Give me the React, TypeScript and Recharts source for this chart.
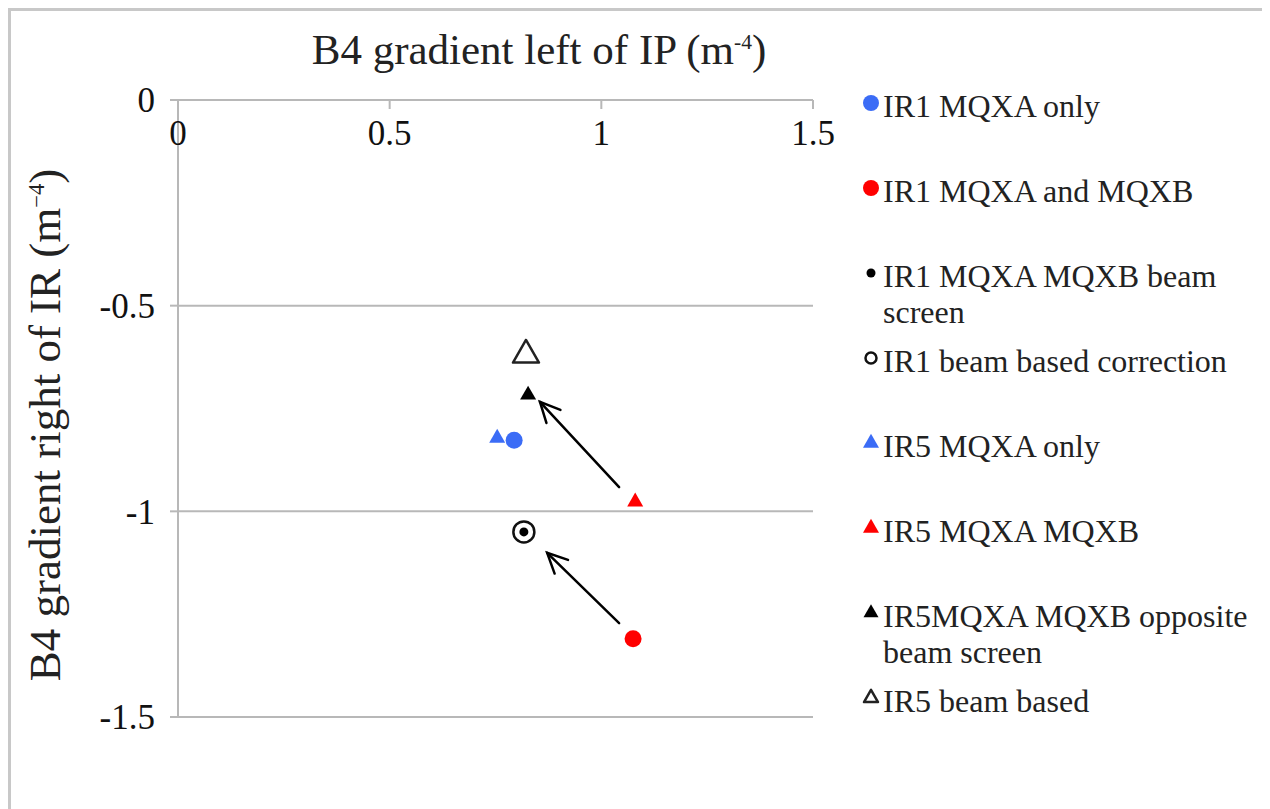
import React from 'react';
import { ScatterChart, Scatter, XAxis, YAxis, CartesianGrid, ReferenceLine } from 'recharts';

// axis ticks
const xTicks = [0, 0.5, 1, 1.5];
const yTicks = [0, -0.5, -1, -1.5];

// series values
const ir1MqxaOnly = [{ x: 0.794, y: -0.827 }];
const ir1MqxaMqxb = [{ x: 1.075, y: -1.31 }];
const ir1BeamScreen = [{ x: 0.817, y: -1.05 }];
const ir1BeamBased = [{ x: 0.817, y: -1.05 }];
const ir5MqxaOnly = [{ x: 0.754, y: -0.822 }];
const ir5MqxaMqxb = [{ x: 1.08, y: -0.977 }];
const ir5OppositeScreen = [{ x: 0.827, y: -0.717 }];
const ir5BeamBased = [{ x: 0.822, y: -0.62 }];

// arrows: from -> to
const arrowFromTo = [
  [{ x: 1.042, y: -0.941 }, { x: 0.855, y: -0.734 }],
  [{ x: 1.042, y: -1.272 }, { x: 0.872, y: -1.101 }],
];

const GRID = '#b8b8b8';
const FONT = '"Liberation Serif", "Times New Roman", serif';

type Kind = 'circle' | 'ring' | 'triangle' | 'openTriangle';

const series: { name: string; data: { x: number; y: number }[]; kind: Kind; color: string; size: number; legendSize: number }[] = [
  { name: 'IR1 MQXA only', data: ir1MqxaOnly, kind: 'circle', color: '#3b6cf6', size: 17, legendSize: 16 },
  { name: 'IR1 MQXA and MQXB', data: ir1MqxaMqxb, kind: 'circle', color: '#ff0000', size: 17, legendSize: 16 },
  { name: 'IR1 MQXA MQXB beam screen', data: ir1BeamScreen, kind: 'circle', color: '#000000', size: 9, legendSize: 9 },
  { name: 'IR1 beam based correction', data: ir1BeamBased, kind: 'ring', color: '#111111', size: 24, legendSize: 14 },
  { name: 'IR5 MQXA only', data: ir5MqxaOnly, kind: 'triangle', color: '#3b6cf6', size: 16, legendSize: 16 },
  { name: 'IR5 MQXA MQXB', data: ir5MqxaMqxb, kind: 'triangle', color: '#ff0000', size: 16, legendSize: 16 },
  { name: 'IR5MQXA MQXB opposite beam screen', data: ir5OppositeScreen, kind: 'triangle', color: '#000000', size: 16, legendSize: 15 },
  { name: 'IR5 beam based', data: ir5BeamBased, kind: 'openTriangle', color: '#222222', size: 26, legendSize: 14 },
];

function Marker({ kind, color, size, cx, cy }: { kind: Kind; color: string; size: number; cx: number; cy: number }) {
  const r = size / 2;
  if (kind === 'circle') return <circle cx={cx} cy={cy} r={r} fill={color} />;
  if (kind === 'ring') return <circle cx={cx} cy={cy} r={r - 1.5} fill="none" stroke={color} strokeWidth={2.5} />;
  const h = size * 0.87;
  const pts = `${cx},${cy - (h * 2) / 3} ${cx - r},${cy + h / 3} ${cx + r},${cy + h / 3}`;
  if (kind === 'triangle') return <polygon points={pts} fill={color} />;
  return <polygon points={pts} fill="#fff" stroke={color} strokeWidth={2.5} strokeLinejoin="round" />;
}

function Arrow(props: any) {
  const { x1, y1, x2, y2 } = props;
  const ang = Math.atan2(y2 - y1, x2 - x1);
  const len = 22;
  const spread = 0.45;
  const ax = x2 - len * Math.cos(ang - spread);
  const ay = y2 - len * Math.sin(ang - spread);
  const bx = x2 - len * Math.cos(ang + spread);
  const by = y2 - len * Math.sin(ang + spread);
  return (
    <g stroke="#000" strokeWidth={2.5} fill="none" strokeLinecap="round">
      <line x1={x1} y1={y1} x2={x2} y2={y2} />
      <polyline points={`${ax},${ay} ${x2},${y2} ${bx},${by}`} />
    </g>
  );
}

// x axis sits on top but its labels hang below the line, like the original
function XTick(props: any) {
  const { x, y, payload } = props;
  return (
    <g>
      <line x1={x} y1={y} x2={x} y2={y + 9} stroke={GRID} strokeWidth={2} />
      <text x={x} y={y + 45} textAnchor="middle" fontSize={35} fontFamily={FONT} fill="#111">
        {payload.value}
      </text>
    </g>
  );
}

function LegendBox() {
  return (
    <div style={{ position: 'absolute', left: 850, top: 77, width: 405, fontFamily: FONT, fontSize: 32, color: '#222' }}>
      {series.map((s) => (
        <div key={s.name} style={{ position: 'relative', height: 85, paddingLeft: 22, lineHeight: '36px' }}>
          <svg width={20} height={20} style={{ position: 'absolute', left: 0, top: 5 }}>
            <Marker kind={s.kind} color={s.color} size={s.legendSize} cx={10} cy={10} />
          </svg>
          <span>{s.name}</span>
        </div>
      ))}
    </div>
  );
}

export default function App() {
  return (
    <div
      style={{
        position: 'relative',
        width: 1262,
        height: 801,
        borderLeft: '3px solid #c8c8c8',
        borderTop: '3px solid #c8c8c8',
        boxSizing: 'border-box',
        background: '#fff',
      }}
    >
      <div style={{ position: 'absolute', left: -3, top: -3 }}>
        <ScatterChart width={1250} height={790} margin={{ top: 62, left: 110, right: 445, bottom: 81 }}>
          <CartesianGrid horizontal vertical={false} stroke={GRID} strokeWidth={2} />
          <XAxis
            type="number"
            dataKey="x"
            orientation="top"
            domain={[0, 1.5]}
            ticks={xTicks}
            interval={0}
            height={30}
            tickSize={0}
            tickMargin={0}
            tickLine={false}
            axisLine={{ stroke: GRID, strokeWidth: 2 }}
            tick={<XTick />}
          />
          <YAxis
            type="number"
            dataKey="y"
            domain={[-1.5, 0]}
            ticks={yTicks}
            interval={0}
            width={60}
            tickSize={8}
            tickMargin={15}
            tickLine={{ stroke: GRID, strokeWidth: 2 }}
            axisLine={{ stroke: GRID, strokeWidth: 2 }}
            tick={{ fontSize: 35, fontFamily: FONT, fill: '#111' }}
          />
          {arrowFromTo.map((seg, i) => (
            <ReferenceLine key={i} segment={seg} shape={(p: any) => <Arrow {...p} />} ifOverflow="visible" />
          ))}
          {series.map((s) => (
            <Scatter
              key={s.name}
              name={s.name}
              data={s.data}
              isAnimationActive={false}
              shape={(p: any) => <Marker kind={s.kind} color={s.color} size={s.size} cx={p.cx} cy={p.cy} />}
            />
          ))}
        </ScatterChart>
      </div>
      <div
        style={{
          position: 'absolute',
          left: 0,
          width: 1056,
          top: 14,
          textAlign: 'center',
          fontFamily: FONT,
          fontSize: 43,
          color: '#222',
          whiteSpace: 'nowrap',
        }}
      >
        B4 gradient left of IP (m<sup style={{ fontSize: '0.5em' }}>-4</sup>)
      </div>
      <div style={{ position: 'absolute', left: 34, top: 414, width: 0, height: 0 }}>
        <div
          style={{
            position: 'absolute',
            transform: 'translate(-50%, -50%) rotate(-90deg)',
            fontFamily: FONT,
            fontSize: 45,
            color: '#222',
            whiteSpace: 'nowrap',
          }}
        >
          B4 gradient right of IR (m<sup style={{ fontSize: '0.5em' }}>−4</sup>)
        </div>
      </div>
      <LegendBox />
    </div>
  );
}
